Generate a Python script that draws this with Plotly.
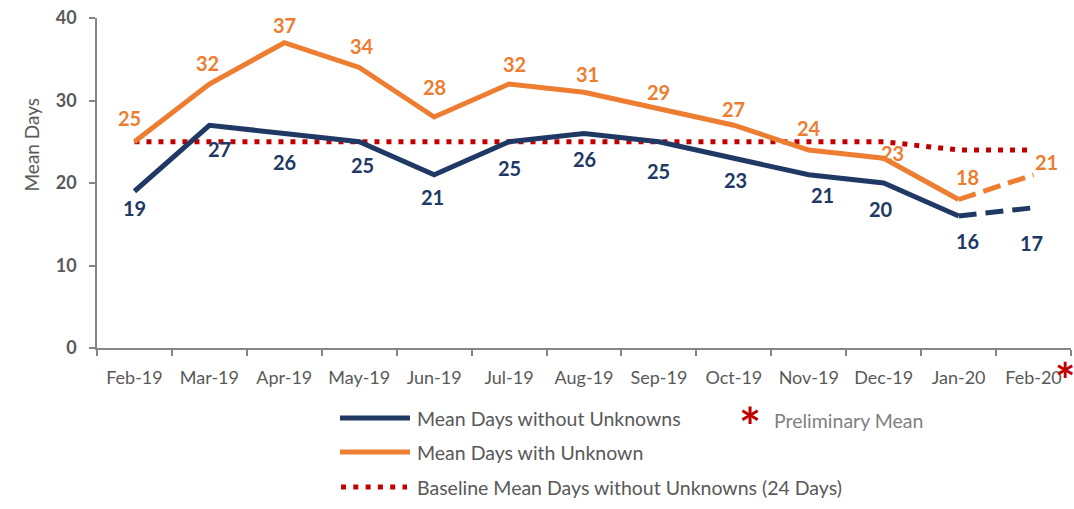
import plotly.graph_objects as go

# ---------------- data ----------------
months = ["Feb-19", "Mar-19", "Apr-19", "May-19", "Jun-19", "Jul-19", "Aug-19",
          "Sep-19", "Oct-19", "Nov-19", "Dec-19", "Jan-20", "Feb-20"]
without_unknowns = [19, 27, 26, 25, 21, 25, 26, 25, 23, 21, 20, 16, 17]
with_unknown = [25, 32, 37, 34, 28, 32, 31, 29, 27, 24, 23, 18, 21]
baseline = [25, 25, 25, 25, 25, 25, 25, 25, 25, 25, 25, 24, 24]
y_ticks = [0, 10, 20, 30, 40]
prelim_from = 11  # index where preliminary (dashed) segment starts

# ---------------- styles ----------------
NAVY = "#203864"
ORANGE = "#ED7D31"
RED = "#C00000"
GRAY = "#595959"
FONT = "Lato"

# label offsets in pixels (dx, dy) – style only
orange_off = [(-5, 24), (-2, 21), (0, 18), (3, 22), (0, 30), (5, 20), (3, 18),
              (0, 17), (0, 16), (0, 22), (9, 5), (9, 23), (13, 13)]
navy_off = [(0, -17), (10, -24), (0, -28), (3, -23), (-2, -22), (0, -26), (0, -25),
            (0, -29), (2, -22), (14, -20), (-3, -26), (9, -25), (-2, -35)]

L, R, T, B = 97, 3, 18, 161
W, H = 1074, 509
PW, PH = W - L - R, H - T - B


def px(x):
    return (x - L) / PW


def py(y):
    return (H - B - y) / PH


fig = go.Figure()

n = len(months)
solid_nav = [v if i <= prelim_from else None for i, v in enumerate(without_unknowns)]
dash_nav = [v if i >= prelim_from else None for i, v in enumerate(without_unknowns)]
solid_or = [v if i <= prelim_from else None for i, v in enumerate(with_unknown)]
dash_or = [v if i >= prelim_from else None for i, v in enumerate(with_unknown)]

fig.add_trace(go.Scatter(x=months, y=baseline, mode="lines",
                         line=dict(color=RED, width=5, dash="5px,7px"),
                         showlegend=False, hoverinfo="skip"))
fig.add_trace(go.Scatter(x=months, y=solid_or, mode="lines",
                         line=dict(color=ORANGE, width=5), showlegend=False))
fig.add_trace(go.Scatter(x=months, y=dash_or, mode="lines",
                         line=dict(color=ORANGE, width=5, dash="18px,8px"), showlegend=False))
fig.add_trace(go.Scatter(x=months, y=solid_nav, mode="lines",
                         line=dict(color=NAVY, width=5), showlegend=False))
fig.add_trace(go.Scatter(x=months, y=dash_nav, mode="lines",
                         line=dict(color=NAVY, width=5, dash="18px,9px"), showlegend=False))

annotations = []
for i, m in enumerate(months):
    dx, dy = orange_off[i]
    annotations.append(dict(x=m, y=with_unknown[i], xref="x", yref="y", text=str(with_unknown[i]),
                            showarrow=False, xshift=dx, yshift=dy,
                            font=dict(family=FONT, size=20, color=ORANGE, weight="bold")))
    dx, dy = navy_off[i]
    annotations.append(dict(x=m, y=without_unknowns[i], xref="x", yref="y", text=str(without_unknowns[i]),
                            showarrow=False, xshift=dx, yshift=dy,
                            font=dict(family=FONT, size=20, color=NAVY, weight="bold")))

# y-axis title
annotations.append(dict(x=px(17), y=py(145), xref="paper", yref="paper", text="Mean Days",
                        textangle=-90, showarrow=False,
                        font=dict(family=FONT, size=19, color=GRAY)))

# legend (manual)
legend_rows = [("Mean Days without Unknowns", 418), ("Mean Days with Unknown", 452),
               ("Baseline Mean Days without Unknowns (24 Days)", 487)]
for text, yy in legend_rows:
    annotations.append(dict(x=px(415), y=py(yy), xref="paper", yref="paper", text=text,
                            xanchor="left", yanchor="middle", showarrow=False,
                            font=dict(family=FONT, size=19.5, color=GRAY)))
annotations.append(dict(x=px(772), y=py(420), xref="paper", yref="paper", text="Preliminary Mean",
                        xanchor="left", yanchor="middle", showarrow=False,
                        font=dict(family=FONT, size=19.5, color="#808080")))
annotations.append(dict(x=px(750), y=py(426), xref="paper", yref="paper", text="*",
                        xanchor="center", yanchor="middle", showarrow=False,
                        font=dict(family=FONT, size=52, color=RED, weight="bold")))
annotations.append(dict(x=px(1065), y=py(379), xref="paper", yref="paper", text="*",
                        xanchor="center", yanchor="middle", showarrow=False,
                        font=dict(family=FONT, size=48, color=RED, weight="bold")))

shapes = [
    dict(type="line", xref="paper", yref="paper", x0=px(340), x1=px(410), y0=py(418), y1=py(418),
         line=dict(color=NAVY, width=5)),
    dict(type="line", xref="paper", yref="paper", x0=px(340), x1=px(410), y0=py(452), y1=py(452),
         line=dict(color=ORANGE, width=5)),
    dict(type="line", xref="paper", yref="paper", x0=px(341), x1=px(407), y0=py(487), y1=py(487),
         line=dict(color=RED, width=5, dash="5px,7.3px")),
]

fig.update_layout(
    width=W, height=H,
    margin=dict(l=L, r=R, t=T, b=B),
    paper_bgcolor="white", plot_bgcolor="white",
    font=dict(family=FONT, color=GRAY),
    annotations=annotations, shapes=shapes,
    showlegend=False,
)
fig.update_xaxes(type="category", range=[-0.5, n - 0.5], tickson="boundaries",
                 ticks="outside", ticklen=6, tickcolor="#868686", tickwidth=1.5,
                 showline=True, linecolor="#868686", linewidth=1.5, showgrid=False,
                 tickfont=dict(family=FONT, size=18, color=GRAY), ticklabelstandoff=13)
fig.update_yaxes(range=[0, 40], tickvals=y_ticks, ticks="outside", ticklen=6,
                 tickcolor="#868686", tickwidth=1.5, showline=True, linecolor="#868686",
                 linewidth=1.5, showgrid=False, zeroline=False,
                 tickfont=dict(family=FONT, size=18, color=GRAY, weight="bold"),
                 ticklabelstandoff=9)

fig.write_html("out.html")
